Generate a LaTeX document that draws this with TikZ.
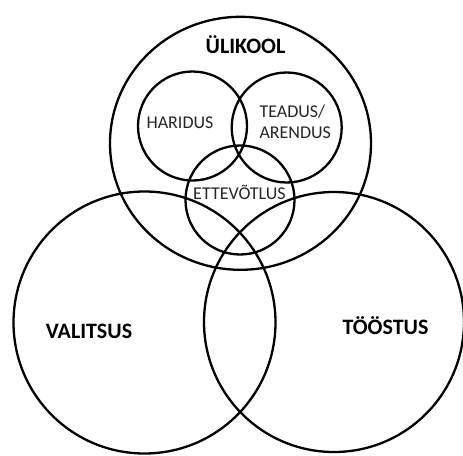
\documentclass[tikz,border=0pt]{standalone}
\usepackage{fontspec}
\setmainfont{Carlito}
\usetikzlibrary{shapes.geometric}
\begin{document}
\begin{tikzpicture}[x=1pt,y=-1pt,
  ring/.style={circle,draw=black,line width=2.3pt,inner sep=0pt,minimum size=#1},
  big/.style={font=\fontsize{22}{24}\selectfont\bfseries,anchor=base,inner sep=0pt},
  small/.style={font=\fontsize{18}{21}\selectfont,anchor=base,inner sep=0pt,text=black!85}]
\useasboundingbox (0,0) rectangle (463,455);
\node[ellipse,draw=black,line width=2.3pt,inner sep=0pt,minimum width=261pt,minimum height=253pt] (uli) at (240.5,143.3) {};
\node[ring=109pt] (har) at (192.5,126) {};
\node[ring=110pt] (tea) at (286.7,127.5) {};
\node[ring=109pt] (ett) at (240,200) {};
\node[ring=262pt] (val) at (144.5,322.5) {};
\node[ring=260pt] (too) at (334,322) {};
\node[big] (tuli) at (245.5,53.3) {ÜLIKOOL};
\node[small] (thar) at (180,128.3) {HARIDUS};
\node[small,anchor=base west] (ttea1) at (259.3,117.3) {TEADUS/};
\node[small,anchor=base west] (ttea2) at (259.3,138.3) {ARENDUS};
\node[small] (tett) at (239.5,199) {ETTEVÕTLUS};
\node[big] (tval) at (89,338.3) {VALITSUS};
\node[big] (ttoo) at (385.5,334.3) {TÖÖSTUS};
\end{tikzpicture}
\end{document}
